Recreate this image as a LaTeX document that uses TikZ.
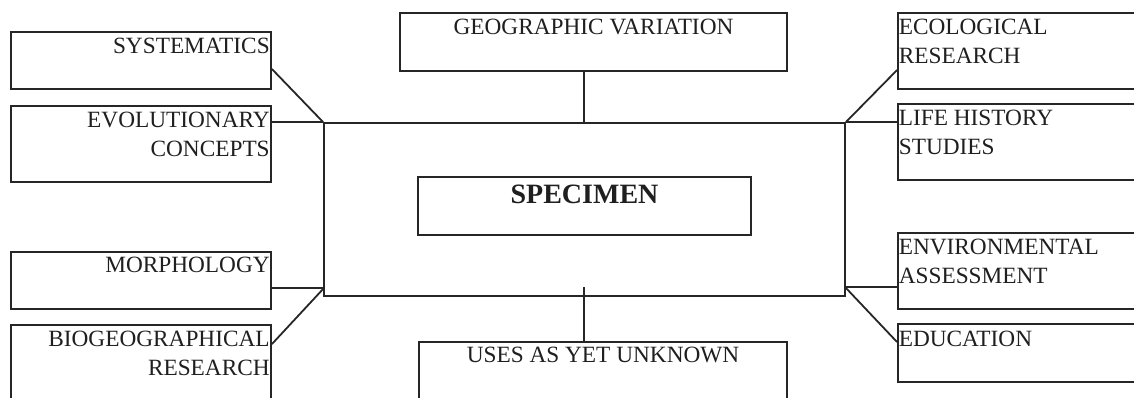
\documentclass[tikz,border=0pt]{standalone}
\usepackage{fontspec}
\setmainfont{Liberation Serif}
\begin{document}
\begin{tikzpicture}[x=1pt,y=-1pt,
  box/.style={draw=black!85,line width=1.8pt,rectangle,inner sep=0pt,anchor=center},
  lbl/.style={inner sep=0pt,text=black!88,font=\fontsize{23.3}{29}\selectfont},
  rlbl/.style={lbl,anchor=base east,align=right},
  llbl/.style={lbl,anchor=base west,align=left},
  clbl/.style={lbl,anchor=base},
  conn/.style={draw=black!85,line width=1.8pt}]
\useasboundingbox (0,0) rectangle (1134,398);
\clip (0,0) rectangle (1134,398);
% boxes
\node[box,minimum width=260pt,minimum height=57pt] (sys) at (141,60.5) {};
\node[box,minimum width=260pt,minimum height=76pt] (evo) at (141,144) {};
\node[box,minimum width=260pt,minimum height=57pt] (mor) at (141,280.5) {};
\node[box,minimum width=260pt,minimum height=76pt] (bio) at (141,363) {};
\node[box,minimum width=387pt,minimum height=58pt] (geo) at (593.5,42) {};
\node[box,minimum width=521pt,minimum height=173pt] (big) at (584.5,209.5) {};
\node[box,minimum width=333pt,minimum height=58pt] (spec) at (584.5,206) {};
\node[box,minimum width=368pt,minimum height=76pt] (uses) at (603,380) {};
\node[box,minimum width=262pt,minimum height=76pt] (eco) at (1029,51) {};
\node[box,minimum width=262pt,minimum height=76pt] (life) at (1029,142) {};
\node[box,minimum width=262pt,minimum height=76pt] (env) at (1029,271) {};
\node[box,minimum width=262pt,minimum height=58pt] (edu) at (1029,353) {};
% texts (multi-line nodes are anchored on their last line)
\node[rlbl] (tsys) at ([xshift=-2pt,yshift=-22pt]sys.north east) {SYSTEMATICS};
\node[rlbl] (tevo) at ([xshift=-2pt,yshift=-51pt]evo.north east) {EVOLUTIONARY\\CONCEPTS};
\node[rlbl] (tmor) at ([xshift=-2pt,yshift=-21pt]mor.north east) {MORPHOLOGY};
\node[rlbl] (tbio) at ([xshift=-2pt,yshift=-51pt]bio.north east) {BIOGEOGRAPHICAL\\RESEARCH};
\node[clbl] (tgeo) at ([yshift=-22pt]geo.north) {GEOGRAPHIC VARIATION};
\node[lbl,anchor=base,font=\fontsize{28}{32}\selectfont\bfseries] (tspec) at ([yshift=-27pt]spec.north) {SPECIMEN};
\node[clbl] (tuses) at ([yshift=-21pt]uses.north) {USES AS YET UNKNOWN};
\node[llbl] (teco) at ([xshift=1.5pt,yshift=-51pt]eco.north west) {ECOLOGICAL\\RESEARCH};
\node[llbl] (tlife) at ([xshift=1.5pt,yshift=-51pt]life.north west) {LIFE HISTORY\\STUDIES};
\node[llbl] (tenv) at ([xshift=1.5pt,yshift=-51pt]env.north west) {ENVIRONMENTAL\\ASSESSMENT};
\node[llbl] (tedu) at ([xshift=1.5pt,yshift=-23pt]edu.north west) {EDUCATION};
% connector points
\coordinate (bl) at (324,288);
\coordinate (br) at (845,287);
\coordinate (ut) at (584,287);
% connectors
\draw[conn] (geo.south -| ut) -- (big.north -| ut);
\draw[conn] (ut) -- (uses.north -| ut);
\draw[conn] ([yshift=-8.5pt]sys.east) -- (big.north west);
\draw[conn] (big.north west) -- (big.north west -| evo.east);
\draw[conn] (bl) -- (bl -| mor.east);
\draw[conn] (bl) -- ([yshift=-20pt]bio.north east);
\draw[conn] (big.north east) -- ([yshift=-19pt]eco.west);
\draw[conn] (big.north east) -- (big.north east -| life.west);
\draw[conn] (br) -- (br -| env.west);
\draw[conn] (br) -- ([yshift=-19pt]edu.north west);
\end{tikzpicture}
\end{document}
